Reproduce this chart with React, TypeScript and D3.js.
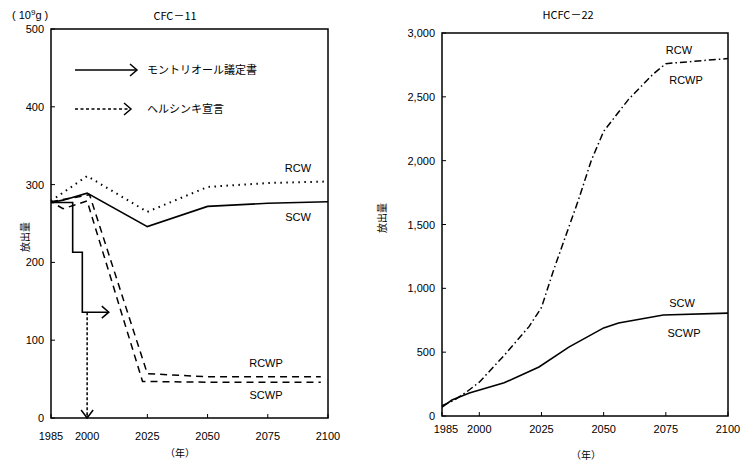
import React from 'react';
import * as d3 from 'd3';

// CFC-11 (left panel)
const cfcScwYears = [1985, 1990, 2000, 2025, 2050, 2075, 2100];
const cfcScw = [277, 280, 289, 246, 272, 276, 278];
const cfcRcwYears = [1985, 2000, 2025, 2050, 2075, 2100];
const cfcRcw = [279, 311, 265, 297, 302, 304];
const cfcRcwpYears = [1985, 2001, 2025, 2050, 2075, 2097];
const cfcRcwp = [278, 287, 57, 53, 53, 53];
const cfcScwpYears = [1985, 1990, 2000, 2023, 2050, 2075, 2097];
const cfcScwp = [278, 269, 279, 47, 46, 46, 46];
// Montreal protocol step + Helsinki arrow
const stepYears = [1985, 1994, 1994, 1998, 1998, 2009];
const stepVals = [277, 277, 213, 213, 136, 136];
const dropYears = [2000, 2000];
const dropVals = [136, 0];

// HCFC-22 (right panel)
const hcfcRcwYears = [1985, 1990, 1995, 2000, 2010, 2020, 2025, 2030, 2040, 2045, 2050, 2060, 2070, 2075, 2100];
const hcfcRcw = [80, 125, 190, 265, 475, 700, 850, 1150, 1700, 2000, 2230, 2480, 2680, 2760, 2800];
const hcfcScwYears = [1985, 1989, 1996, 2010, 2024, 2036, 2050, 2056, 2074, 2100];
const hcfcScw = [70, 125, 180, 260, 384, 540, 690, 728, 791, 806];

const xTicks = [1985, 2000, 2025, 2050, 2075, 2100];
const cfcYTicks = [0, 100, 200, 300, 400, 500];
const hcfcYTicks = [0, 500, 1000, 1500, 2000, 2500, 3000];

const jp = '"Noto Sans CJK JP", sans-serif';
const lat = '"Liberation Sans", Arial, sans-serif';

function Chevron({ x, y, dir }: { x: number; y: number; dir: 'right' | 'down' }) {
  const d = dir === 'right'
    ? `M${x - 7},${y - 6} L${x},${y} L${x - 7},${y + 6}`
    : `M${x - 6},${y - 8} L${x},${y} L${x + 6},${y - 8}`;
  return <path d={d} fill="none" stroke="#000" strokeWidth={1.5} />;
}

export default function App() {
  // left scales
  const xL = d3.scaleLinear().domain([1985, 2100]).range([51, 328]);
  const yL = d3.scaleLinear().domain([0, 500]).range([418, 29]);
  // right scales
  const xR = d3.scaleLinear().domain([1985, 2100]).range([442, 728]);
  const yR = d3.scaleLinear().domain([0, 3000]).range([416, 33]);

  const lineL = (ys: number[], vs: number[]) =>
    d3.line<number>().x((_, i) => xL(ys[i])).y((v) => yL(v))(vs) || '';
  const lineR = (ys: number[], vs: number[]) =>
    d3.line<number>().x((_, i) => xR(ys[i])).y((v) => yR(v))(vs) || '';

  const fmt = d3.format(',');

  return (
    <svg width={743} height={465} style={{ position: 'absolute', left: 0, top: 0, background: '#fff' }}>
      <g fill="#000" stroke="none" fontFamily={lat}>
        {/* ---------- left panel ---------- */}
        <text x={12} y={19} fontSize={11}>( 10<tspan dy={-4} fontSize={8}>9</tspan><tspan dy={4}>g )</tspan></text>
        <text x={175} y={20} fontSize={11} textAnchor="middle" fontFamily={jp}>CFC－11</text>
        <rect x={xL(1985)} y={yL(500)} width={xL(2100) - xL(1985)} height={yL(0) - yL(500)}
          fill="none" stroke="#000" strokeWidth={1.5} />
        {cfcYTicks.map((t) => (
          <g key={'ly' + t}>
            <line x1={xL(1985)} x2={xL(1985) + 4} y1={yL(t)} y2={yL(t)} stroke="#000" />
            <text x={44} y={yL(t) + 4} fontSize={11} textAnchor="end">{t}</text>
          </g>
        ))}
        {xTicks.map((t) => (
          <g key={'lx' + t}>
            <line x1={xL(t)} x2={xL(t)} y1={yL(0)} y2={yL(0) - 4} stroke="#000" />
            <text x={xL(t)} y={440} fontSize={11} textAnchor="middle">{t}</text>
          </g>
        ))}
        <text x={180} y={457} fontSize={10} textAnchor="middle" fontFamily={jp}>（年）</text>
        <text transform="translate(29,237) rotate(-90)" fontSize={10} textAnchor="middle" fontFamily={jp}>放出量</text>

        {/* legend */}
        <line x1={75} x2={136} y1={70} y2={70} stroke="#000" strokeWidth={1.5} />
        <Chevron x={137} y={70} dir="right" />
        <text x={147} y={74} fontSize={11} fontFamily={jp}>モントリオール議定書</text>
        <line x1={75} x2={130} y1={109} y2={109} stroke="#000" strokeWidth={1.5} strokeDasharray="3 2.5" />
        <Chevron x={131} y={109} dir="right" />
        <text x={147} y={113} fontSize={11} fontFamily={jp}>ヘルシンキ宣言</text>

        {/* series */}
        <path d={lineL(cfcRcwYears, cfcRcw)} fill="none" stroke="#000" strokeWidth={2} strokeDasharray="1.5 4.5" />
        <path d={lineL(cfcScwYears, cfcScw)} fill="none" stroke="#000" strokeWidth={1.6} />
        <path d={lineL(cfcRcwpYears, cfcRcwp)} fill="none" stroke="#000" strokeWidth={1.5} strokeDasharray="7 5" />
        <path d={lineL(cfcScwpYears, cfcScwp)} fill="none" stroke="#000" strokeWidth={1.5} strokeDasharray="7 5" strokeDashoffset={4} />
        <path d={lineL(stepYears, stepVals)} fill="none" stroke="#000" strokeWidth={1.6} />
        <Chevron x={xL(stepYears[stepYears.length - 1])} y={yL(stepVals[stepVals.length - 1])} dir="right" />
        <path d={lineL(dropYears, dropVals)} fill="none" stroke="#000" strokeWidth={1.5} strokeDasharray="3 2" />
        <Chevron x={xL(dropYears[1])} y={yL(dropVals[1])} dir="down" />

        <text x={298} y={172} fontSize={11} textAnchor="middle">RCW</text>
        <text x={298} y={221} fontSize={11} textAnchor="middle">SCW</text>
        <text x={266} y={367} fontSize={11} textAnchor="middle">RCWP</text>
        <text x={266} y={399} fontSize={11} textAnchor="middle">SCWP</text>

        {/* ---------- right panel ---------- */}
        <text x={568} y={19} fontSize={11} textAnchor="middle" fontFamily={jp}>HCFC－22</text>
        <rect x={xR(1985)} y={yR(3000)} width={xR(2100) - xR(1985)} height={yR(0) - yR(3000)}
          fill="none" stroke="#000" strokeWidth={1.5} />
        {hcfcYTicks.map((t) => (
          <g key={'ry' + t}>
            <line x1={xR(1985)} x2={xR(1985) + 4} y1={yR(t)} y2={yR(t)} stroke="#000" />
            <text x={435} y={yR(t) + 4} fontSize={11} textAnchor="end">{fmt(t)}</text>
          </g>
        ))}
        {xTicks.map((t) => (
          <g key={'rx' + t}>
            <line x1={xR(t)} x2={xR(t)} y1={yR(0)} y2={yR(0) - 4} stroke="#000" />
            <text x={xR(t) + (t === 1985 ? 4 : 0)} y={433} fontSize={11} textAnchor="middle">{t}</text>
          </g>
        ))}
        <text x={586} y={459} fontSize={10} textAnchor="middle" fontFamily={jp}>（年）</text>
        <text transform="translate(386,218) rotate(-90)" fontSize={10} textAnchor="middle" fontFamily={jp}>放出量</text>

        <path d={lineR(hcfcRcwYears, hcfcRcw)} fill="none" stroke="#000" strokeWidth={1.5} strokeDasharray="7 3 1.5 3" />
        <path d={lineR(hcfcScwYears, hcfcScw)} fill="none" stroke="#000" strokeWidth={1.6} />

        <text x={679} y={54} fontSize={11} textAnchor="middle">RCW</text>
        <text x={686} y={84} fontSize={11} textAnchor="middle">RCWP</text>
        <text x={682} y={307} fontSize={11} textAnchor="middle">SCW</text>
        <text x={684} y={337} fontSize={11} textAnchor="middle">SCWP</text>
      </g>
    </svg>
  );
}
